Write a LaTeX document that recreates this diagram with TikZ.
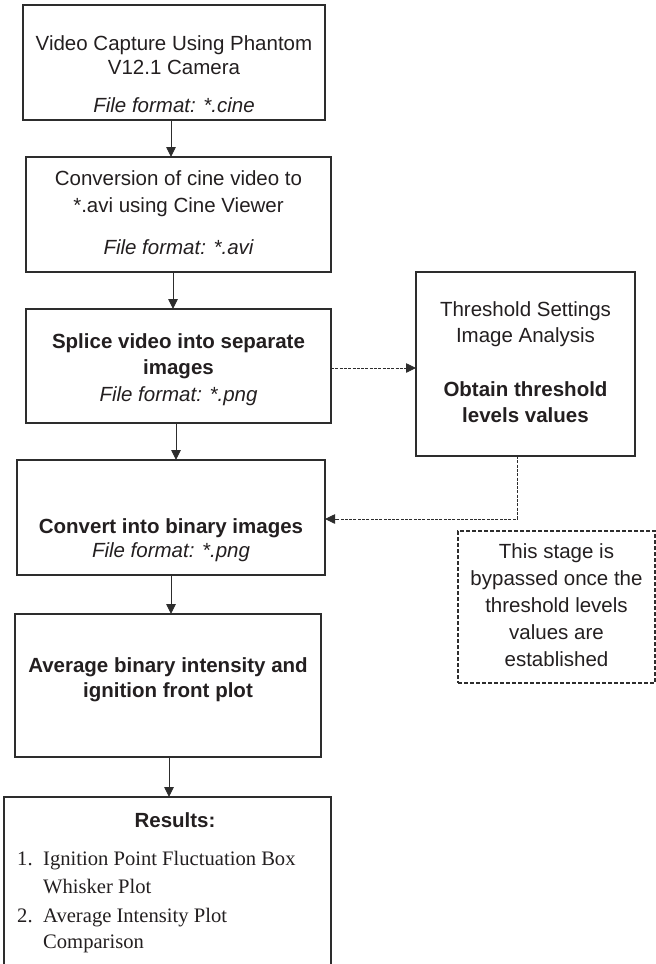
\documentclass[tikz,border=0pt]{standalone}
\usepackage{fontspec}
\setmainfont{Liberation Sans}
\newfontfamily\tmsfont{Liberation Serif}
\usetikzlibrary{arrows.meta}
\definecolor{ink}{RGB}{35,31,32}
\definecolor{edge}{RGB}{45,45,45}
\begin{document}
\begin{tikzpicture}[x=1pt,y=-1pt,
  box/.style={draw=edge, line width=1.6pt, inner sep=0pt, outer sep=0pt},
  notebox/.style={draw=edge, line width=1.2pt, dash pattern=on 4pt off 2pt, inner sep=0pt, outer sep=0pt},
  arr/.style={draw=edge, line width=0.9pt, -{Triangle[length=10pt,width=9.5pt]}},
  darr/.style={draw=edge, line width=0.8pt, dash pattern=on 3pt off 1.3pt, -{Triangle[length=10pt,width=9.5pt]}},
  txt/.style={anchor=base, inner sep=0pt, text=ink, font=\fontsize{20.5}{26}\selectfont},
  btxt/.style={txt, font=\fontsize{20.5}{26}\selectfont\bfseries},
  itxt/.style={txt, font=\fontsize{20.5}{26}\selectfont\itshape},
  rtxt/.style={anchor=base west, inner sep=0pt, text=ink, font=\fontsize{20.6}{26}\selectfont\tmsfont}
]
\useasboundingbox (0,0) rectangle (656,964);
\clip (0,0) rectangle (656,964);

% boxes
\node[box, minimum width=302pt, minimum height=115pt] (b1) at (174,62.5) {};
\node[box, minimum width=305pt, minimum height=115pt] (b2) at (178.5,214.5) {};
\node[box, minimum width=305pt, minimum height=114pt] (b3) at (178.5,366) {};
\node[box, minimum width=219pt, minimum height=184pt] (thr) at (525.5,364) {};
\node[box, minimum width=308pt, minimum height=115pt] (b4) at (171,517.5) {};
\node[notebox, minimum width=197pt, minimum height=152pt] (note) at (556.5,607) {};
\node[box, minimum width=306pt, minimum height=143pt] (b5) at (168,685.5) {};
\node[box, minimum width=327pt, minimum height=203pt] (b6) at (167.5,898.5) {};

% box 1 text
\node[txt] (t1a) at (174,50) {Video Capture Using Phantom};
\node[txt] (t1b) at (174,74) {V12.1 Camera};
\node[itxt] (t1c) at (174,112) {File format: *.cine};

% box 2 text
\node[txt] (t2a) at (178.5,185) {Conversion of cine video to};
\node[txt] (t2b) at (178.5,212) {*.avi using Cine Viewer};
\node[itxt] (t2c) at (178.5,254) {File format: *.avi};

% box 3 text
\node[btxt] (t3a) at (178.5,348) {Splice video into separate};
\node[btxt] (t3b) at (178.5,374) {images};
\node[itxt] (t3c) at (178.5,401) {File format: *.png};

% threshold box text
\node[txt] (tta) at (525.5,316) {Threshold Settings};
\node[txt] (ttb) at (525.5,342) {Image Analysis};
\node[btxt] (ttc) at (525.5,396) {Obtain threshold};
\node[btxt] (ttd) at (525.5,422) {levels values};

% box 4 text
\node[btxt] (t4a) at (171,533) {Convert into binary images};
\node[itxt] (t4b) at (171,557) {File format: *.png};

% note box text
\node[txt] (tna) at (556.5,558) {This stage is};
\node[txt] (tnb) at (556.5,585) {bypassed once the};
\node[txt] (tnc) at (556.5,612) {threshold levels};
\node[txt] (tnd) at (556.5,639) {values are};
\node[txt] (tne) at (556.5,666) {established};

% box 5 text
\node[btxt] (t5a) at (168,672) {Average binary intensity and};
\node[btxt] (t5b) at (168,697) {ignition front plot};

% box 6 text
\node[btxt] (t6a) at (175,827) {Results:};
\node[rtxt] (t6n1) at (17,865) {1.};
\node[rtxt] (t6a1) at (43,865) {Ignition Point Fluctuation Box};
\node[rtxt] (t6a2) at (43,893) {Whisker Plot};
\node[rtxt] (t6n2) at (17,922) {2.};
\node[rtxt] (t6b1) at (43,922) {Average Intensity Plot};
\node[rtxt] (t6b2) at (43,948) {Comparison};

% connectors
\draw[arr] ([xshift=-3pt]b1.south) -- ([xshift=-7.5pt]b2.north);
\draw[arr] ([xshift=-5.5pt]b2.south) -- ([xshift=-5.5pt]b3.north);
\draw[arr] ([xshift=-2.5pt]b3.south) -- ([xshift=5pt]b4.north);
\draw[arr] (b4.south) -- ([xshift=3pt]b5.north);
\draw[arr] ([xshift=1pt]b5.south) -- ([xshift=1.5pt]b6.north);
\draw[darr] ([yshift=-2pt]b3.east) -- ([yshift=-2pt]b3.east -| thr.west);
\draw[darr] ([xshift=-8.5pt]thr.south) |- ([yshift=-1.5pt]b4.east);
\end{tikzpicture}
\end{document}
